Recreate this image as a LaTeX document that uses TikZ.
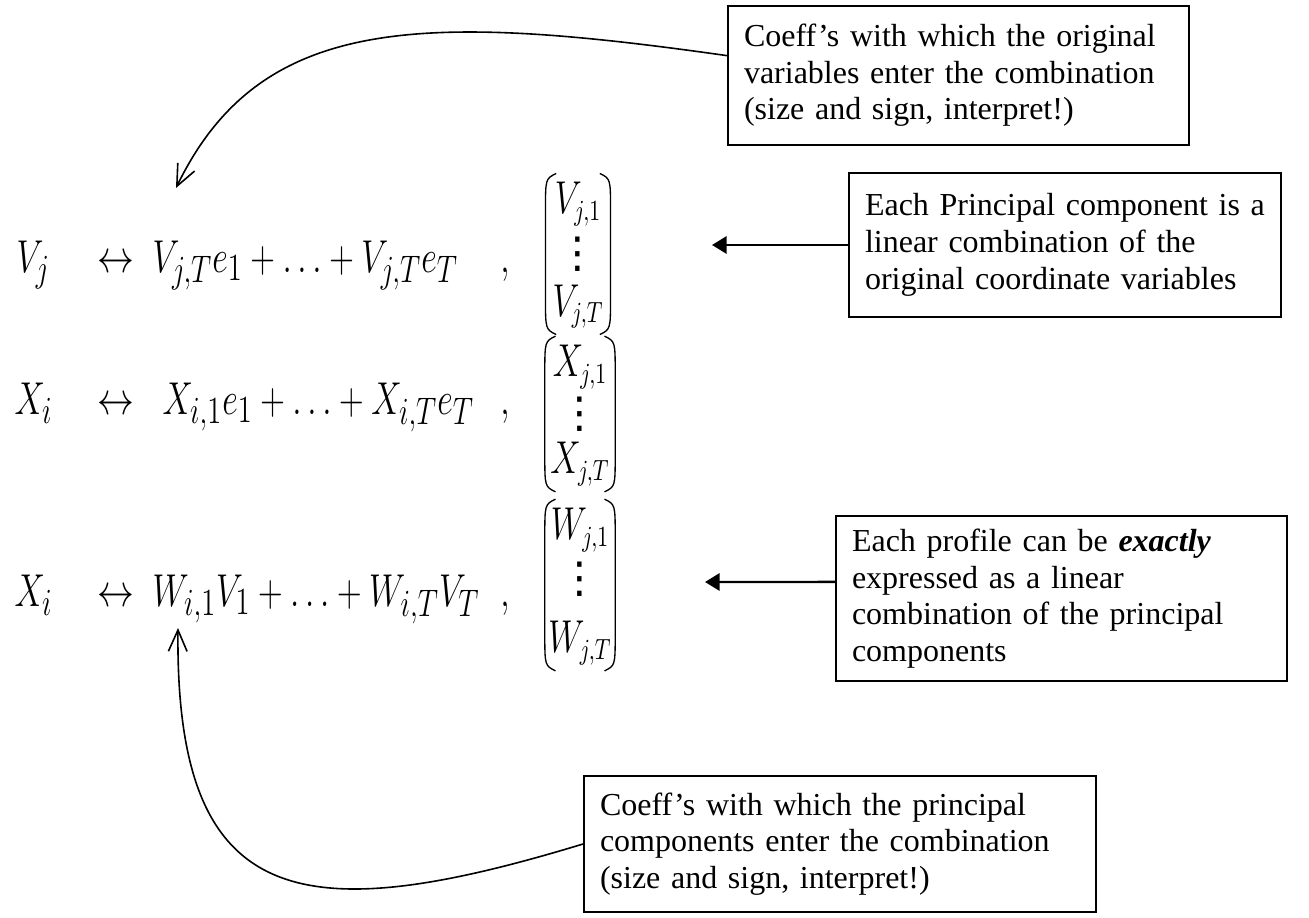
\documentclass[tikz,border=0pt]{standalone}
\usepackage{amsmath}
\usepackage{fontspec}
\setmainfont{Liberation Serif}
\newfontfamily\dotsfont{DejaVu Sans}
\usepackage{graphicx}
\usetikzlibrary{positioning,calc,arrows.meta}

\newcommand{\slim}[1]{\scalebox{0.74}[1]{#1}}

\begin{document}
\begin{tikzpicture}[
  x=0.375pt, y=-0.375pt,
  note/.style={draw, line width=0.75pt, align=left, anchor=north west, inner xsep=6pt, inner ysep=0pt, font=\fontsize{12}{13.8}\selectfont},
  eqn/.style={inner sep=0pt, font=\fontsize{19}{22}\selectfont},
  entry/.style={inner sep=0pt, font=\fontsize{16}{18}\selectfont},
  coldots/.style={inner sep=0pt, font=\dotsfont\fontsize{16}{16}\selectfont},
  vect/.style={inner sep=0pt},
  paren/.style={line width=0.5pt},
  curvy/.style={line width=0.6pt, -{Straight Barb[length=8pt,width=7pt]}},
  pointer/.style={line width=0.9pt, -{Triangle[length=5.5pt,width=6.5pt]}}
]
\useasboundingbox (0,0) rectangle (1309,917);

% Row 1: principal component in the original coordinates
\node[eqn, anchor=base west] (vj) at (16,272) {\slim{$V_j$}};
\node[eqn, anchor=base] (vlr) at (116,272) {\scalebox{0.8}[1]{$\leftrightarrow$}};
\node[eqn, anchor=base west] (vsum) at (152,272) {\slim{$V_{j,T}e_1+\ldots+V_{j,T}e_T$}};
\node[eqn, anchor=base] (vcomma) at (505,272) {\slim{$,$}};
\node[vect, minimum width=24pt, minimum height=60pt] (vvec) at (578,254) {};
\node[entry, below=3pt of vvec.north] (vvec1) {\slim{$V_{j,1}$}};
\node[coldots] (vvecd) at (vvec.center) {⋮};
\node[entry, above=2pt of vvec.south] (vvecT) {\slim{$V_{j,T}$}};

% Row 2: profile in the original coordinates
\node[eqn, anchor=base west] (xi) at (14,414) {\slim{$X_i$}};
\node[eqn, anchor=base] (xlr) at (116,414) {\scalebox{0.8}[1]{$\leftrightarrow$}};
\node[eqn, anchor=base west] (xsum) at (162,414) {\slim{$X_{i,1}e_1+\ldots+X_{i,T}e_T$}};
\node[eqn, anchor=base] (xcomma) at (505,414) {\slim{$,$}};
\node[vect, minimum width=26pt, minimum height=58pt] (xvec) at (580,414) {};
\node[entry, below=3pt of xvec.north] (xvec1) {\slim{$X_{j,1}$}};
\node[coldots] (xvecd) at (xvec.center) {⋮};
\node[entry, above=2pt of xvec.south] (xvecT) {\slim{$X_{j,T}$}};

% Row 3: profile in the principal components
\node[eqn, anchor=base west] (xw) at (14,606) {\slim{$X_i$}};
\node[eqn, anchor=base] (wlr) at (116,606) {\scalebox{0.8}[1]{$\leftrightarrow$}};
\node[eqn, anchor=base west] (wsum) at (152,606) {\slim{$W_{i,1}V_1+\ldots+W_{i,T}V_T$}};
\node[eqn, anchor=base] (wcomma) at (505,606) {\slim{$,$}};
\node[vect, minimum width=26pt, minimum height=64pt] (wvec) at (580,585) {};
\node[entry, below=3pt of wvec.north] (wvec1) {\slim{$W_{j,1}$}};
\node[coldots, yshift=2pt] (wvecd) at (wvec.center) {⋮};
\node[entry, above=2pt of wvec.south] (wvecT) {\slim{$W_{j,T}$}};

% Parentheses round the vectors
\foreach \v in {vvec,xvec,wvec} {
  \draw[paren] ([xshift=4pt]\v.north west) .. controls ([yshift=-2pt]\v.north west) .. ([yshift=-14pt]\v.north west)
    -- ([yshift=14pt]\v.south west) .. controls ([yshift=2pt]\v.south west) .. ([xshift=4pt]\v.south west);
  \draw[paren] ([xshift=-4pt]\v.north east) .. controls ([yshift=-2pt]\v.north east) .. ([yshift=-14pt]\v.north east)
    -- ([yshift=14pt]\v.south east) .. controls ([yshift=2pt]\v.south east) .. ([xshift=-4pt]\v.south east);
}

% Notes
\node[note, text width=161pt, minimum height=52pt] (coefforig) at (727,5) {Coeff's with which the original\\ variables enter the combination\\ (size and sign, interpret!)};
\node[note, text width=150pt, minimum height=54pt] (eachpc) at (848,172) {Each Principal component is a\\ linear combination of the\\ original coordinate variables};
\node[note, text width=157pt, minimum height=62pt] (eachprof) at (835,515) {Each profile can be \textbf{\textit{exactly}}\\ expressed as a linear\\ combination of the principal\\ components};
\node[note, text width=180pt, minimum height=51pt] (coeffpc) at (583,775) {Coeff's with which the principal\\ components enter the combination\\ (size and sign, interpret!)};

% Arrow ends
\coordinate (vtip) at (176,188);
\coordinate (wtip) at (178,628);
\coordinate (pctip) at (712,245);
\coordinate (proftip) at (705,582);

% Arrows
\draw[curvy] ($(coefforig.north west)!0.36!(coefforig.south west)$) .. controls (420,12) and (260,15) .. (vtip);
\draw[curvy] (coeffpc.west) .. controls (300,930) and (175,910) .. (wtip);
\draw[pointer] (eachpc.west) -- (pctip);
\draw[pointer] ($(eachprof.north west)!0.4!(eachprof.south west)$) -- (proftip);

\end{tikzpicture}
\end{document}
